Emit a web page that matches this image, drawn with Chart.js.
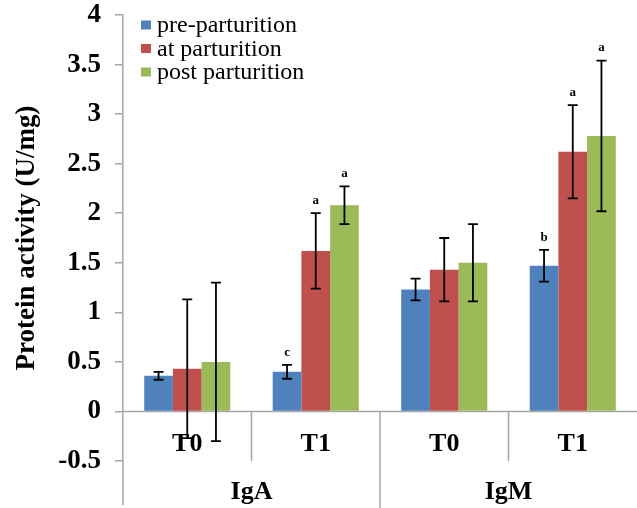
<!DOCTYPE html>
<html>
<head>
<meta charset="utf-8">
<script src="https://cdn.jsdelivr.net/npm/chart.js@4.4.0/dist/chart.umd.min.js"></script>
<style>
  body { margin: 0; background: #fff; }
</style>
</head>
<body>
<canvas id="c" width="637" height="508"></canvas>
<script>
// group labels
const categories = ["T0", "T1", "T0", "T1"];
const groups = ["IgA", "IgM"];

// mean values
const preValues = [0.36, 0.40, 1.23, 1.47];
const atValues = [0.43, 1.62, 1.43, 2.62];
const postValues = [0.50, 2.08, 1.50, 2.78];

// error bar half-widths
const preErrors = [0.04, 0.07, 0.11, 0.16];
const atErrors = [0.70, 0.38, 0.32, 0.47];
const postErrors = [0.80, 0.19, 0.39, 0.76];

// significance letters
const preLetters = ["", "c", "", "b"];
const atLetters = ["", "a", "", "a"];
const postLetters = ["", "a", "", "a"];

const gray = "#a6a6a6";
const serif = "'Liberation Serif', 'Times New Roman', serif";

// error bars + letters, drawn over the bars
const errorBars = {
  id: "errorBars",
  afterDatasetsDraw(chart) {
    const ctx = chart.ctx;
    const y = chart.scales.y;
    ctx.save();
    ctx.strokeStyle = "#000";
    ctx.lineWidth = 1.8;
    ctx.fillStyle = "#000";
    ctx.font = "bold 13px " + serif;
    ctx.textAlign = "center";
    ctx.textBaseline = "bottom";
    chart.data.datasets.forEach((ds, i) => {
      const meta = chart.getDatasetMeta(i);
      meta.data.forEach((bar, j) => {
        const v = ds.data[j];
        const e = ds.errors[j];
        const top = y.getPixelForValue(v + e);
        const bot = y.getPixelForValue(v - e);
        ctx.beginPath();
        ctx.moveTo(bar.x, top);
        ctx.lineTo(bar.x, bot);
        ctx.moveTo(bar.x - 5, top);
        ctx.lineTo(bar.x + 5, top);
        ctx.moveTo(bar.x - 5, bot);
        ctx.lineTo(bar.x + 5, bot);
        ctx.stroke();
        if (ds.letters[j]) {
          ctx.fillText(ds.letters[j], bar.x, top - 6);
        }
      });
    });
    ctx.restore();
  }
};

// zero line, category separators and labels
const categoryAxis = {
  id: "categoryAxis",
  beforeDatasetsDraw(chart) {
    const ctx = chart.ctx;
    const a = chart.chartArea;
    const y0 = chart.scales.y.getPixelForValue(0);
    ctx.save();
    ctx.strokeStyle = gray;
    ctx.lineWidth = 1.5;
    ctx.beginPath();
    ctx.moveTo(a.left, y0);
    ctx.lineTo(a.right, y0);
    ctx.stroke();
    ctx.restore();
  },
  afterDraw(chart) {
    const ctx = chart.ctx;
    const a = chart.chartArea;
    const x = chart.scales.x;
    const y0 = chart.scales.y.getPixelForValue(0);
    const bottom = chart.height;
    const step = (a.right - a.left) / categories.length;
    ctx.save();
    ctx.strokeStyle = gray;
    ctx.lineWidth = 1.5;
    ctx.beginPath();
    // extend the value axis down through the labels
    ctx.moveTo(a.left, a.bottom);
    ctx.lineTo(a.left, bottom - 3);
    for (let k = 1; k < categories.length; k++) {
      const sx = a.left + step * k;
      ctx.moveTo(sx, y0);
      ctx.lineTo(sx, k % 2 === 0 ? bottom : a.bottom);
    }
    ctx.stroke();
    ctx.fillStyle = "#000";
    ctx.font = "bold 26px " + serif;
    ctx.textAlign = "center";
    ctx.textBaseline = "middle";
    categories.forEach((c, k) => {
      ctx.fillText(c, x.getPixelForValue(k), y0 + 33);
    });
    groups.forEach((g, k) => {
      ctx.fillText(g, a.left + step * (2 * k + 1), a.bottom + 31);
    });
    ctx.restore();
  }
};

// legend in the top-left corner of the plot
const cornerLegend = {
  id: "cornerLegend",
  afterDraw(chart) {
    const ctx = chart.ctx;
    ctx.save();
    ctx.font = "24px " + serif;
    ctx.textBaseline = "middle";
    chart.data.datasets.forEach((ds, i) => {
      const cy = 25 + i * 23.5;
      ctx.fillStyle = ds.backgroundColor;
      ctx.fillRect(141, cy - 4.5, 10, 9);
      ctx.fillStyle = "#000";
      ctx.fillText(ds.label, 157, cy + 1);
    });
    ctx.restore();
  }
};

new Chart(document.getElementById("c"), {
  type: "bar",
  data: {
    labels: categories,
    datasets: [
      { label: "pre-parturition", data: preValues, errors: preErrors, letters: preLetters, backgroundColor: "#4f81bd" },
      { label: "at parturition", data: atValues, errors: atErrors, letters: atLetters, backgroundColor: "#c0504d" },
      { label: "post parturition", data: postValues, errors: postErrors, letters: postLetters, backgroundColor: "#9bbb59" },
    ],
  },
  options: {
    responsive: false,
    animation: false,
    layout: { padding: { top: 15, right: 0, bottom: 47, left: 0 } },
    categoryPercentage: 0.67,
    barPercentage: 1.0,
    plugins: {
      legend: { display: false },
      tooltip: { enabled: false },
    },
    scales: {
      x: { display: false },
      y: {
        min: -0.5,
        max: 4,
        afterFit(scale) {
          scale.width = 123;
          scale.paddingTop = 0;
          scale.paddingBottom = 0;
        },
        ticks: {
          stepSize: 0.5,
          color: "#000",
          padding: 14,
          font: { family: serif, size: 27, weight: "bold" },
          callback: (v) => String(Math.round(v * 10) / 10),
        },
        grid: { drawOnChartArea: false, tickLength: 8, color: gray, lineWidth: 1.5 },
        border: { color: gray, width: 1.5 },
        title: {
          display: true,
          text: "Protein activity (U/mg)",
          color: "#000",
          font: { family: serif, size: 27, weight: "bold" },
          padding: { top: 11, bottom: 0 },
        },
      },
    },
  },
  plugins: [categoryAxis, errorBars, cornerLegend],
});
</script>
</body>
</html>
